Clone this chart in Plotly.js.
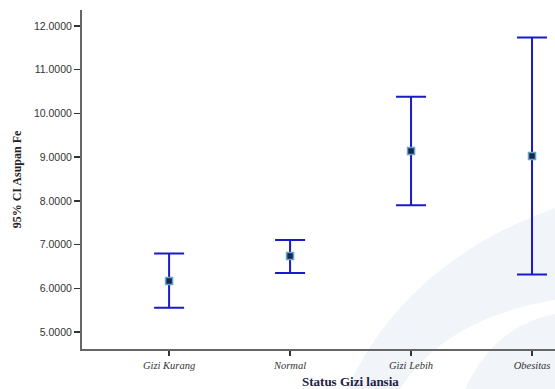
<!DOCTYPE html>
<html>
<head>
<meta charset="utf-8">
<script src="https://cdn.plot.ly/plotly-3.0.1.min.js"></script>
<style>
  html, body { margin: 0; padding: 0; background: #fff; }
  #chart { width: 555px; height: 389px; }
</style>
</head>
<body>
<div id="chart"></div>
<script>
// Mean iron intake (Asupan Fe) with 95% confidence interval per nutrition status
const categories = ['Gizi Kurang', 'Normal', 'Gizi Lebih', 'Obesitas'];
const means = [6.17, 6.74, 9.14, 9.03];
const ciUpper = [6.80, 7.11, 10.38, 11.74];
const ciLower = [5.56, 6.35, 7.90, 6.32];

const plusErr = ciUpper.map((u, i) => u - means[i]);
const minusErr = ciLower.map((l, i) => means[i] - l);

// Plot area geometry in pixels, used to place the faint background swoosh
const L = 82, T = 10, W = 473, H = 339;
function p(x, y) {
  return ((x - L) / W).toFixed(4) + ',' + ((T + H - y) / H).toFixed(4);
}

const trace = {
  x: categories,
  y: means,
  type: 'scatter',
  mode: 'markers',
  marker: {
    symbol: 'square',
    size: 7,
    color: '#1c2452',
    line: { color: '#5fa8c8', width: 1.5 }
  },
  error_y: {
    type: 'data',
    symmetric: false,
    array: plusErr,
    arrayminus: minusErr,
    color: '#1a1acd',
    thickness: 2,
    width: 15
  },
  hoverinfo: 'x+y'
};

const swooshColor = '#f1f4f9';

const layout = {
  width: 555,
  height: 389,
  margin: { l: L, r: 0, t: T, b: 389 - T - H },
  paper_bgcolor: '#ffffff',
  plot_bgcolor: 'rgba(0,0,0,0)',
  showlegend: false,
  xaxis: {
    type: 'category',
    range: [-0.72, 3.19],
    showgrid: false,
    zeroline: false,
    showline: true,
    linecolor: '#666666',
    linewidth: 2,
    ticks: 'outside',
    ticklen: 5,
    tickwidth: 1.5,
    tickcolor: '#333333',
    tickfont: { family: 'Liberation Serif, Times New Roman, serif', size: 10.5, color: '#333333', style: 'italic' },
    fixedrange: true
  },
  yaxis: {
    range: [4.615, 12.366],
    dtick: 1,
    tick0: 0,
    tickformat: '.4f',
    showgrid: false,
    zeroline: false,
    showline: true,
    linecolor: '#666666',
    linewidth: 2,
    ticks: 'outside',
    ticklen: 6,
    tickwidth: 1.5,
    tickcolor: '#333333',
    tickfont: { family: 'Liberation Sans, Arial, sans-serif', size: 10.5, color: '#333333' },
    title: {
      text: '95% CI Asupan Fe',
      font: { family: 'Liberation Serif, Times New Roman, serif', size: 12, color: '#222222', weight: 'bold' },
      standoff: 10
    },
    fixedrange: true
  },
  annotations: [
    {
      text: 'Status Gizi lansia',
      x: 1.5, xref: 'x',
      y: -0.095, yref: 'paper',
      xanchor: 'center', yanchor: 'middle',
      showarrow: false,
      font: { family: 'Liberation Serif, Times New Roman, serif', size: 13, color: '#222244', weight: 'bold' }
    }
  ],
  shapes: [
    {
      type: 'path', xref: 'paper', yref: 'paper', layer: 'below',
      path: 'M ' + p(347, 389) + ' Q ' + p(405, 262) + ' ' + p(555, 208) +
            ' L ' + p(555, 300) + ' Q ' + p(445, 318) + ' ' + p(400, 389) + ' Z',
      fillcolor: swooshColor, line: { width: 0 }
    },
    {
      type: 'path', xref: 'paper', yref: 'paper', layer: 'below',
      path: 'M ' + p(465, 389) + ' Q ' + p(495, 325) + ' ' + p(555, 314) +
            ' L ' + p(555, 389) + ' Z',
      fillcolor: swooshColor, line: { width: 0 }
    }
  ]
};

Plotly.newPlot('chart', [trace], layout, { displayModeBar: false, staticPlot: true });
</script>
</body>
</html>
